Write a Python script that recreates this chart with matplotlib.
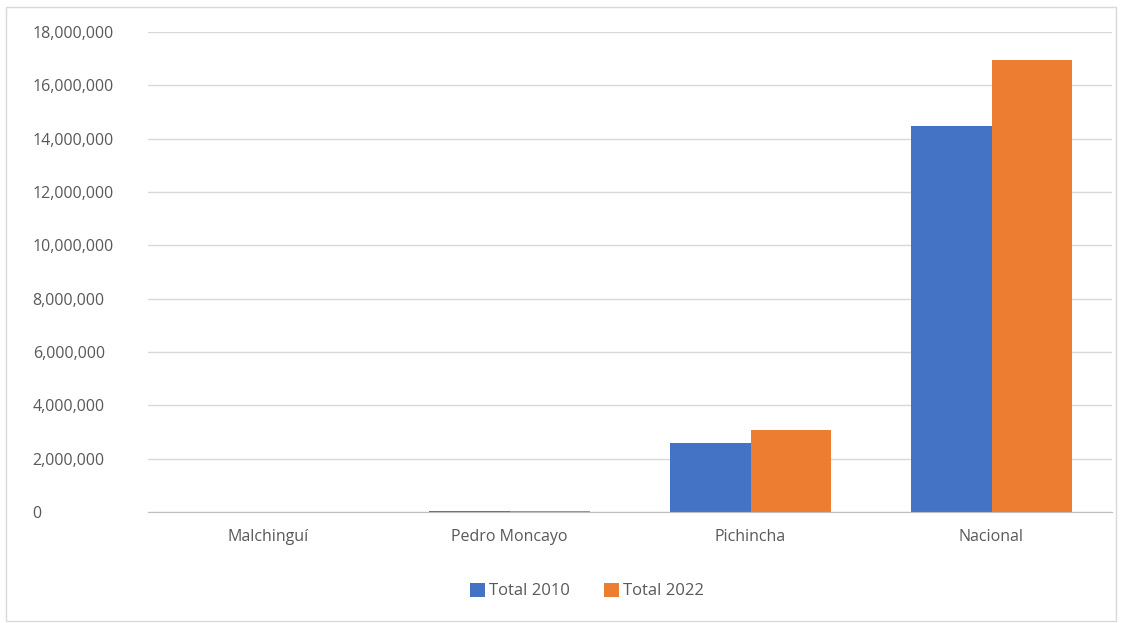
import matplotlib.pyplot as plt
import numpy as np
from matplotlib.patches import Rectangle
from matplotlib.ticker import FuncFormatter

categories = ['Malchinguí', 'Pedro Moncayo', 'Pichincha', 'Nacional']
total_2010 = [4624, 33172, 2576287, 14483499]
total_2022 = [5200, 43000, 3089000, 16938986]
series_names = ['Total 2010', 'Total 2022']
colors = ['#4472C4', '#ED7D31']

plt.rcParams['font.family'] = ['Open Sans', 'DejaVu Sans']

fig = plt.figure(figsize=(11.28, 6.23), dpi=100)
# outer chart border
fig.patches.append(Rectangle((6 / 1128, 2 / 623), 1110 / 1128, 614 / 623,
                             transform=fig.transFigure, fill=False,
                             edgecolor='#D9D9D9', linewidth=1))
ax = fig.add_axes([148 / 1128, 111 / 623, 964 / 1128, 480 / 623])

x = np.arange(len(categories))
w = 0.333
ax.bar(x - w / 2, total_2010, w, color=colors[0], label=series_names[0])
ax.bar(x + w / 2, total_2022, w, color=colors[1], label=series_names[1])

ax.set_xlim(-0.5, len(categories) - 0.5)
ax.set_ylim(0, 18000000)
ax.set_yticks(np.arange(0, 18000001, 2000000))
ax.yaxis.set_major_formatter(FuncFormatter(lambda v, p: f'{int(v):,}'))
ax.set_xticks(x)
ax.set_xticklabels(categories)
ax.grid(axis='y', color='#D9D9D9', linewidth=1)
ax.set_axisbelow(True)
for s in ['top', 'right', 'left']:
    ax.spines[s].set_visible(False)
ax.spines['bottom'].set_color('#BFBFBF')
ax.tick_params(axis='both', length=0, labelsize=11.5, labelcolor='#595959')
ax.tick_params(axis='x', pad=12)
for lbl in ax.get_yticklabels():
    lbl.set_horizontalalignment('left')
ax.yaxis.set_tick_params(pad=83)

leg = fig.legend(loc='center', bbox_to_anchor=(587 / 1128, 32 / 623), ncol=2,
                 frameon=False, fontsize=12, handlelength=0.9, handleheight=0.9,
                 handletextpad=0.25, columnspacing=2.0)
for t in leg.get_texts():
    t.set_color('#595959')

plt.savefig('out.png', dpi=100)
plt.close()
